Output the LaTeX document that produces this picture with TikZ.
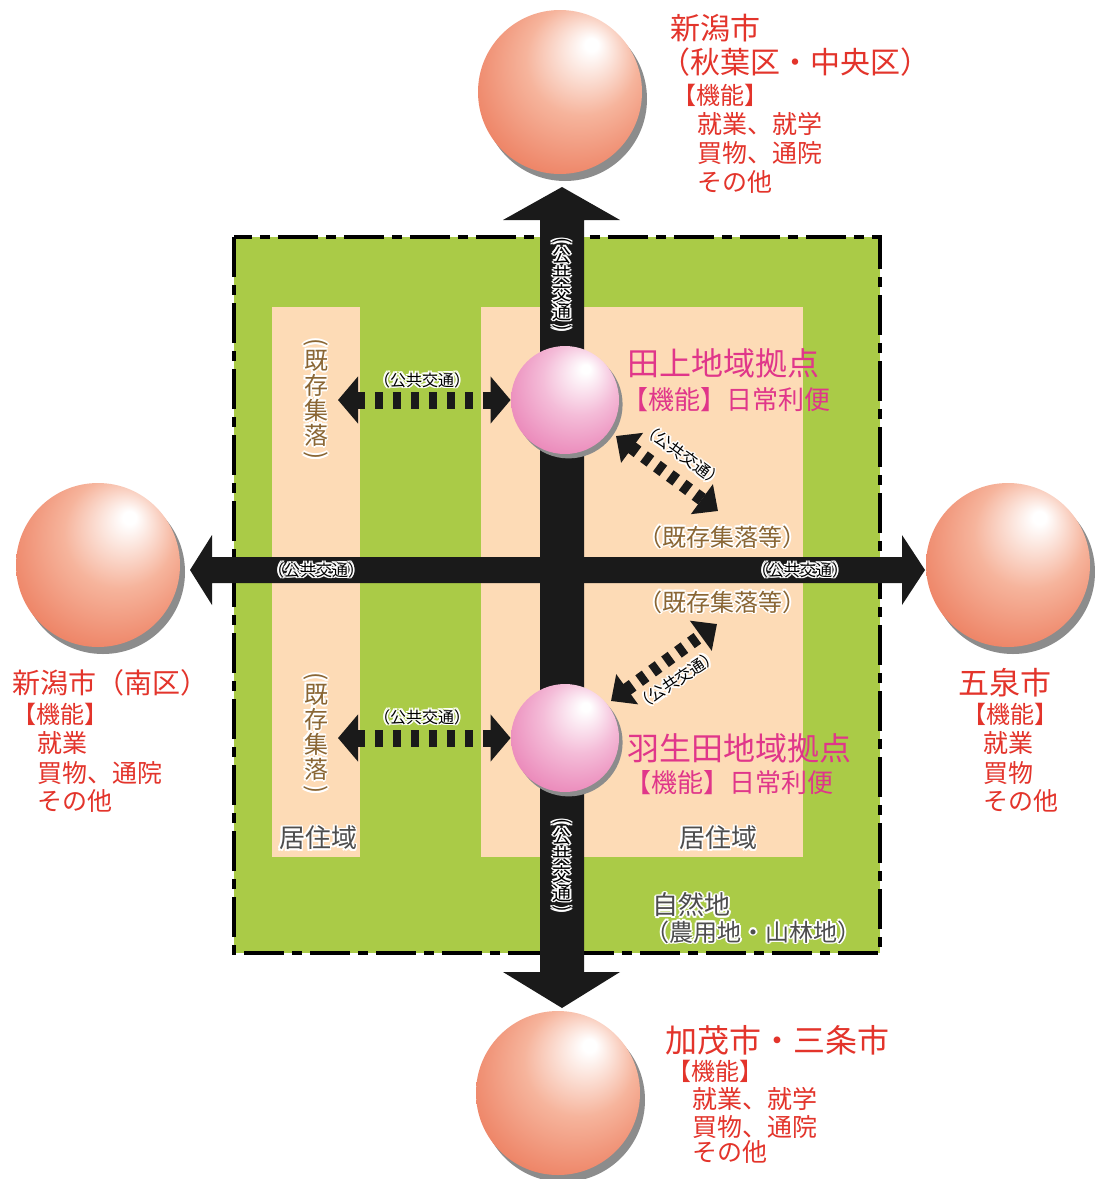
\documentclass[tikz,border=0pt]{standalone}
\usepackage{fontspec}
\usepackage{graphicx}
\newfontfamily\jp{Noto Sans CJK JP}
\usetikzlibrary{arrows.meta,shadows}
\definecolor{natgreen}{HTML}{AACB47}
\definecolor{peach}{HTML}{FDDBB6}
\definecolor{roadblack}{HTML}{1A1A1A}
\definecolor{cityred}{HTML}{E3342B}
\definecolor{hubpink}{HTML}{E0368A}
\definecolor{villbrown}{HTML}{8A6634}
\definecolor{zonegray}{HTML}{4D4D4D}
\definecolor{redhi}{HTML}{F6B49C}
\definecolor{redmid}{HTML}{EC7A5B}
\definecolor{redlo}{HTML}{E4533A}
\definecolor{pinkhi}{HTML}{F4BCD8}
\definecolor{pinkmid}{HTML}{E97FB4}
\definecolor{pinklo}{HTML}{D6307F}
\pgfdeclareradialshading{redball}{\pgfpoint{10bp}{15bp}}{color(0bp)=(white);color(2bp)=(white);color(17bp)=(redhi);color(35bp)=(redmid);color(50bp)=(redlo)}
\pgfdeclareradialshading{pinkball}{\pgfpoint{10bp}{15bp}}{color(0bp)=(white);color(2bp)=(white);color(17bp)=(pinkhi);color(35bp)=(pinkmid);color(50bp)=(pinklo)}
\newcommand\myvopen{\rotatebox[origin=c]{-90}{(}}
\newcommand\myvclose{\rotatebox[origin=c]{-90}{)}}
\newcommand\halo[4]{%
  \foreach \haloang in {0,45,...,315}{%
    \node[#2,text=white] (#1-\haloang) at ([shift={(\haloang:0.9pt)}]#3) {#4};}%
  \node[#2] (#1) at (#3) {#4};}
\tikzset{
  every node/.style={inner sep=0pt},
  citysph/.style={circle, minimum size=82pt, shade, shading=redball,
    drop shadow={shadow xshift=2.5pt, shadow yshift=-3.5pt, fill=black!45, opacity=1}},
  hubsph/.style={circle, minimum size=54pt, shade, shading=pinkball,
    drop shadow={shadow xshift=1.8pt, shadow yshift=-2.2pt, fill=black!45, opacity=1}},
  zone/.style={draw=black, line width=2pt, fill=natgreen, dash pattern=on 20pt off 4pt on 5pt off 4pt},
  resid/.style={fill=peach},
  road/.style={fill=roadblack},
  dotarrow/.style={draw=roadblack, line width=8.5pt, dash pattern=on 4pt off 5pt,
    {Triangle[width=23pt,length=10pt]}-{Triangle[width=23pt,length=10pt]}},
  diagarrow/.style={draw=roadblack, line width=6.5pt, dash pattern=on 4pt off 4pt,
    {Triangle[width=18pt,length=10pt]}-{Triangle[width=18pt,length=10pt]}},
  cityttl/.style={font=\jp\fontsize{15}{18}\selectfont, text=cityred, anchor=west},
  cityfn/.style={font=\jp\fontsize{12.5}{15}\selectfont, text=cityred, anchor=west},
  citybr/.style={font=\jp\fontsize{12}{15}\selectfont, text=cityred, anchor=west},
  hubttl/.style={font=\jp\fontsize{16}{19}\selectfont, text=hubpink, anchor=west},
  hubfn/.style={font=\jp\fontsize{13}{16}\selectfont, text=hubpink, anchor=west},
  villlbl/.style={font=\jp\fontsize{12}{14}\selectfont, text=villbrown, anchor=west},
  villvert/.style={font=\jp\fontsize{12}{12.5}\selectfont, text=villbrown, align=center},
  ptlbl/.style={font=\jp\fontsize{8}{9}\selectfont, text=black},
  ptvert/.style={font=\jp\fontsize{9.5}{9.5}\selectfont, text=black, align=center},
  zonelbl/.style={font=\jp\fontsize{13}{15}\selectfont, text=zonegray},
}
\begin{document}
\begin{tikzpicture}[x=0.5pt,y=-0.5pt]
\useasboundingbox (0,0) rectangle (1094,1179);
\fill[white] (0,0) rectangle (1094,1179);
% zones
\draw[zone] (234,237) rectangle (880,953);
\fill[resid] (272,307) rectangle (360,857);
\fill[resid] (481,307) rectangle (803,857);
% roads
\fill[road] (212,557) -- (212,535) -- (190,570) -- (212,605) -- (212,583) -- (902,583)
  -- (902,605) -- (925,570) -- (902,535) -- (902,557) -- cycle;
\fill[road] (540,972) -- (540,220) -- (503,220) -- (562,187) -- (620,220) -- (584,220)
  -- (584,972) -- (620,972) -- (562,1008) -- (503,972) -- cycle;
% spheres
\node[citysph] (cn) at (560,92) {};
\node[citysph] (cw) at (98,565) {};
\node[citysph] (ce) at (1008,565) {};
\node[citysph] (cs) at (558,1093) {};
\node[hubsph] (tg) at (565,400) {};
\node[hubsph] (hb) at (565,738) {};
% dotted connectors
\coordinate (vt) at (338,400);
\coordinate (vb) at (338,738);
\draw[dotarrow] (vt) -- (tg);
\draw[dotarrow] (vb) -- (hb);
\coordinate (dt1) at (616,436);
\coordinate (dt2) at (718,511);
\coordinate (db1) at (611,701);
\coordinate (db2) at (717,624);
\draw[diagarrow] (dt1) -- (dt2);
\draw[diagarrow] (db1) -- (db2);
% public transport labels
\halo{pl1}{ptlbl}{422,380}{（公共交通）}
\halo{pl2}{ptlbl}{422,717}{（公共交通）}
\halo{pl3}{ptlbl}{316,570}{（公共交通）}
\halo{pl4}{ptlbl}{800,570}{（公共交通）}
\halo{pl5}{ptlbl,rotate=-36.5}{683,455}{（公共交通）}
\halo{pl6}{ptlbl,rotate=34}{677,680}{（公共交通）}
\halo{pv1}{ptvert}{562,286}{\myvopen\\[-2pt]公\\共\\交\\通\\[-2pt]\myvclose}
\halo{pv2}{ptvert}{562,867}{\myvopen\\[-2pt]公\\共\\交\\通\\[-2pt]\myvclose}
% village labels
\halo{vv1}{villvert}{316,401}{\myvopen\\[-3pt]既\\存\\集\\落\\[-3pt]\myvclose}
\halo{vv2}{villvert}{316,735}{\myvopen\\[-3pt]既\\存\\集\\落\\[-3pt]\myvclose}
\halo{vh1}{villlbl}{638,537}{（既存集落等）}
\halo{vh2}{villlbl}{638,602}{（既存集落等）}
% zone labels
\halo{z1}{zonelbl}{318,838}{居住域}
\halo{z2}{zonelbl}{718,838}{居住域}
\halo{z3}{zonelbl,anchor=west}{652,905}{自然地}
\halo{z4}{zonelbl,anchor=west,font=\jp\fontsize{12}{14}\selectfont}{645,932}{（農用地・山林地）}
% hub labels
\node[hubttl] (tgt) at (627,363) {田上地域拠点};
\node[hubfn] (tgf) at (622,400) {【機能】日常利便};
\node[hubttl] (hbt) at (627,748) {羽生田地域拠点};
\node[hubfn] (hbf) at (625,783) {【機能】日常利便};
% city labels north
\node[cityttl] (cn1) at (670,28) {新潟市};
\node[cityttl] (cn2) at (660,62) {（秋葉区・中央区）};
\node[citybr] (cn3) at (672,95) {【機能】};
\node[cityfn] (cn4) at (697,124) {就業、就学};
\node[cityfn] (cn5) at (697,153) {買物、通院};
\node[cityfn] (cn6) at (697,182) {その他};
% city labels west
\node[cityttl,font=\jp\fontsize{14}{17}\selectfont] (cw1) at (12,683) {新潟市（南区）};
\node[citybr] (cw2) at (12,714) {【機能】};
\node[cityfn] (cw3) at (37,743) {就業};
\node[cityfn] (cw4) at (37,773) {買物、通院};
\node[cityfn] (cw5) at (37,801) {その他};
% city labels east
\node[cityttl,font=\jp\fontsize{15.5}{18}\selectfont] (ce1) at (958,683) {五泉市};
\node[citybr] (ce2) at (962,714) {【機能】};
\node[cityfn] (ce3) at (983,743) {就業};
\node[cityfn] (ce4) at (983,773) {買物};
\node[cityfn] (ce5) at (983,801) {その他};
% city labels south
\node[cityttl,font=\jp\fontsize{16}{19}\selectfont] (cs1) at (665,1040) {加茂市・三条市};
\node[citybr] (cs2) at (667,1071) {【機能】};
\node[cityfn] (cs3) at (692,1099) {就業、就学};
\node[cityfn] (cs4) at (692,1127) {買物、通院};
\node[cityfn] (cs5) at (692,1152) {その他};
\end{tikzpicture}
\end{document}
